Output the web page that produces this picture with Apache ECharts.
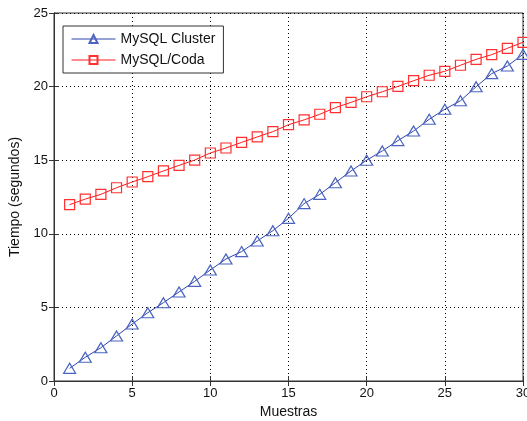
<!DOCTYPE html>
<html><head><meta charset="utf-8">
<script src="https://cdn.jsdelivr.net/npm/echarts@6/dist/echarts.min.js"></script>
<style>html,body{margin:0;padding:0;background:#fff}#c{width:527px;height:421px}</style>
</head><body><div id="c"></div>
<script>
const samples = [1,2,3,4,5,6,7,8,9,10,11,12,13,14,15,16,17,18,19,20,21,22,23,24,25,26,27,28,29,30];
const cluster = [0.86,1.61,2.26,3.06,3.87,4.64,5.32,6.05,6.77,7.54,8.29,8.79,9.51,10.21,11.05,12.05,12.68,13.47,14.27,15.0,15.63,16.33,16.98,17.78,18.46,19.04,19.99,20.88,21.40,22.19];
const coda = [11.98,12.36,12.68,13.13,13.52,13.88,14.27,14.65,15.01,15.49,15.83,16.21,16.58,16.94,17.41,17.74,18.12,18.57,18.93,19.31,19.65,20.01,20.40,20.77,21.04,21.45,21.85,22.17,22.60,23.01];
const seriesNames = ['MySQL Cluster','MySQL/Coda'];
const xTitle = 'Muestras';
const yTitle = 'Tiempo (segundos)';

const font = 'Liberation Sans, Arial, sans-serif';
const chart = echarts.init(document.getElementById('c'), null, {renderer:'canvas'});
const axisCommon = {
  axisLine:{show:true, lineStyle:{color:'#333', width:1}},
  axisTick:{show:true, inside:true, length:5, lineStyle:{color:'#333'}},
};
chart.setOption({
  animation:false,
  backgroundColor:'#fff',
  grid:{left:54, right:4, top:13, bottom:40, show:true, borderColor:'#333', borderWidth:1, backgroundColor:'#fff', outerBoundsMode:'none', containLabel:false},
  legend:{
    left:63, top:26, orient:'vertical',
    data:seriesNames,
    backgroundColor:'#fff', borderColor:'#333', borderWidth:1,
    padding:[5,8,5,8], itemGap:5, itemWidth:44, itemHeight:10,
    lineStyle:{width:1},
    textStyle:{fontFamily:font, fontSize:14, color:'#111', lineHeight:16}
  },
  xAxis:[{
    type:'value', min:0, max:30, interval:5,
    name:xTitle, nameLocation:'middle', nameGap:24,
    nameTextStyle:{fontFamily:font, fontSize:14, color:'#111'},
    ...axisCommon,
    axisLabel:{fontFamily:font, fontSize:13, color:'#111', margin:6},
    splitLine:{show:true, lineStyle:{type:[1,3], color:'#000', width:1}}
  },{
    type:'value', min:0, max:30, interval:5, position:'top',
    ...axisCommon, axisLabel:{show:false}, splitLine:{show:false}
  }],
  yAxis:[{
    type:'value', min:0, max:25, interval:5,
    name:yTitle, nameLocation:'middle', nameGap:26, nameRotate:90,
    nameTextStyle:{fontFamily:font, fontSize:14, color:'#111'},
    ...axisCommon,
    axisLabel:{fontFamily:font, fontSize:13, color:'#111', margin:6},
    splitLine:{show:true, lineStyle:{type:[1,3], color:'#000', width:1}}
  },{
    type:'value', min:0, max:25, interval:5, position:'right',
    ...axisCommon, axisLabel:{show:false}, splitLine:{show:false}
  }],
  series:[{
    name:seriesNames[0], type:'line',
    data:samples.map((x,i)=>[x,cluster[i]]),
    symbol:'triangle', symbolSize:[12,10],
    lineStyle:{color:'#2c44b0', width:1},
    itemStyle:{color:'rgba(255,255,255,0)', borderColor:'#4a64c0', borderWidth:1.2},
    z:3
  },{
    name:seriesNames[1], type:'line',
    data:samples.map((x,i)=>[x,coda[i]]),
    symbol:'rect', symbolSize:10,
    lineStyle:{color:'#ff1a1a', width:1},
    itemStyle:{color:'rgba(255,255,255,0)', borderColor:'#ff3030', borderWidth:1.2},
    z:3
  }]
});
</script></body></html>
